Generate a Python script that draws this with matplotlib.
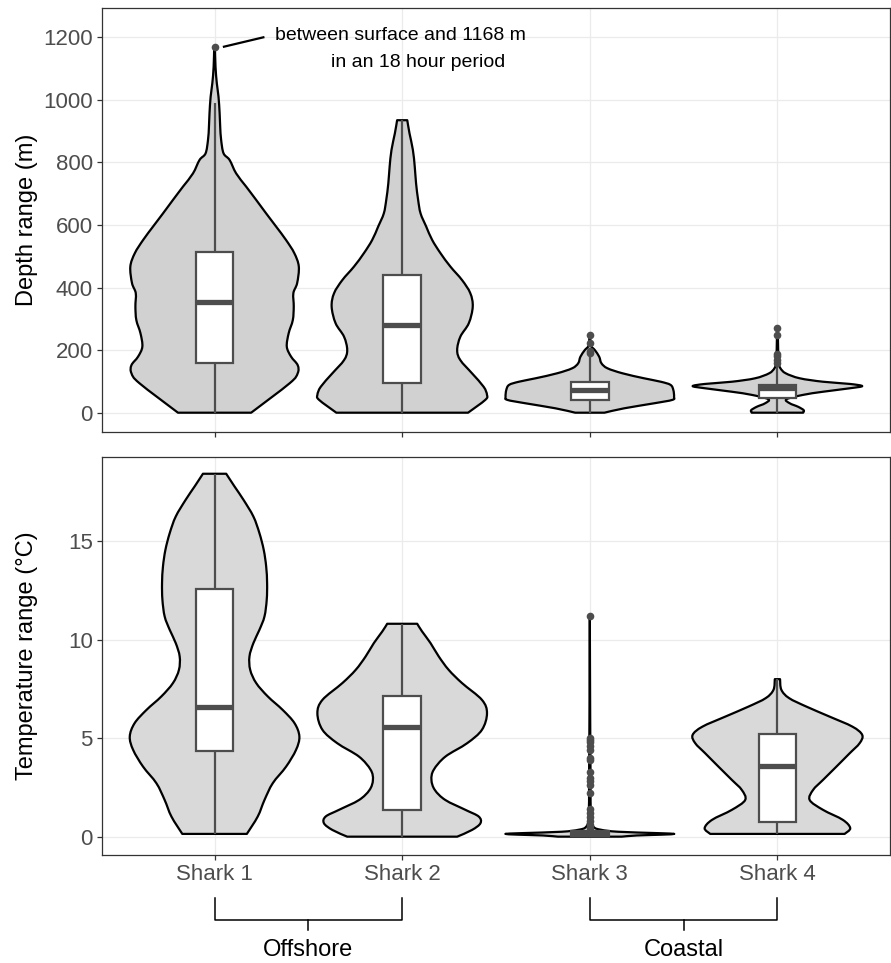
import matplotlib
matplotlib.use("Agg")
import matplotlib.pyplot as plt
from matplotlib.path import Path
from matplotlib.patches import PathPatch
from matplotlib.transforms import blended_transform_factory

plt.rcParams['font.family'] = ['Liberation Sans', 'DejaVu Sans']

# ---------------- data ----------------
sharks = ["Shark 1", "Shark 2", "Shark 3", "Shark 4"]
groups = ["Offshore", "Coastal"]
group_members = [[0, 1], [2, 3]]

# Depth violin outlines (value, half-width)
depth_s1_v = [0, 94, 126, 152, 179, 211, 254, 296, 339, 382, 414, 467, 510, 552, 595, 637,
              680, 723, 765, 808, 829, 872, 914, 957, 1010, 1053, 1106, 1168]
depth_s1_w = [0.195, 0.40, 0.443, 0.443, 0.408, 0.385, 0.395, 0.417, 0.422, 0.42, 0.44, 0.449,
              0.425, 0.381, 0.328, 0.275, 0.222, 0.168, 0.115, 0.080, 0.048, 0.035, 0.030,
              0.027, 0.021, 0.012, 0.005, 0.002]
depth_s2_v = [0, 41, 57, 83, 126, 168, 200, 243, 286, 339, 382, 424, 467, 510, 552, 595, 637,
              680, 733, 786, 840, 893, 935]
depth_s2_w = [0.351, 0.443, 0.452, 0.434, 0.372, 0.31, 0.293, 0.31, 0.355, 0.376, 0.363, 0.319,
              0.257, 0.204, 0.16, 0.128, 0.098, 0.085, 0.074, 0.067, 0.057, 0.039, 0.027]
depth_s3_v = [0, 14, 30, 41, 51, 73, 89, 99, 110, 126, 142, 158, 179, 200, 215, 248]
depth_s3_w = [0.078, 0.183, 0.342, 0.44, 0.449, 0.445, 0.43, 0.378, 0.289, 0.174, 0.094, 0.062,
              0.05, 0.027, 0.006, 0.002]
depth_s4_v = [0, 8, 19, 30, 43, 57, 67, 78, 85, 92, 99, 110, 126, 142, 158, 200, 272]
depth_s4_w = [0.137, 0.14, 0.11, 0.066, 0.048, 0.137, 0.243, 0.385, 0.452, 0.385, 0.243, 0.119,
              0.044, 0.016, 0.008, 0.004, 0.002]

depth_q1 = [158, 96, 41, 46]
depth_med = [353, 280, 73, 80]
depth_q3 = [515, 440, 99, 89]
depth_wlo = [0, 0, 0, 0]
depth_whi = [989, 935, 182, 150]
depth_out = [[1168], [], [248, 224, 198, 190], [272, 249, 188, 180, 169, 159]]

# Temperature violin outlines (value, half-width)
temp_s1_v = [0.14, 1.02, 1.86, 2.71, 3.55, 4.4, 5.08, 5.76, 6.43, 7.11, 7.79, 8.46, 9.14, 9.82,
             10.49, 11.17, 12.02, 12.86, 13.71, 14.55, 15.4, 16.24, 17.09, 17.77, 18.41]
temp_s1_w = [0.172, 0.23, 0.266, 0.31, 0.381, 0.434, 0.452, 0.426, 0.363, 0.284, 0.222, 0.19,
             0.186, 0.207, 0.239, 0.266, 0.278, 0.28, 0.275, 0.262, 0.239, 0.207, 0.154, 0.106,
             0.062]
temp_s2_v = [0, 0.34, 0.68, 1.02, 1.36, 1.86, 2.37, 2.88, 3.39, 4.06, 4.74, 5.42, 6.26, 6.94,
             7.79, 8.46, 9.14, 9.82, 10.41, 10.8]
temp_s2_w = [0.293, 0.372, 0.417, 0.408, 0.337, 0.23, 0.174, 0.156, 0.168, 0.23, 0.346, 0.425,
             0.452, 0.425, 0.319, 0.248, 0.195, 0.151, 0.106, 0.08]
temp_s3_v = [0, 0.06, 0.1, 0.14, 0.18, 0.25, 0.35, 0.5, 1.0, 3.0, 6.0, 11.2]
temp_s3_w = [0.17, 0.25, 0.38, 0.45, 0.36, 0.15, 0.06, 0.02, 0.006, 0.004, 0.002, 0.0]
temp_s4_v = [0.14, 0.43, 0.85, 1.36, 1.86, 2.37, 2.88, 3.55, 4.23, 4.74, 5.16, 5.58, 6.09, 6.6,
             7.03, 7.45, 7.99]
temp_s4_w = [0.358, 0.388, 0.349, 0.243, 0.172, 0.19, 0.243, 0.314, 0.385, 0.438, 0.452, 0.40,
             0.278, 0.154, 0.062, 0.021, 0.014]

temp_q1 = [4.37, 1.36, 0.05, 0.73]
temp_med = [6.6, 5.58, 0.15, 3.59]
temp_q3 = [12.56, 7.16, 0.3, 5.21]
temp_wlo = [0.14, 0, 0, 0.14]
temp_whi = [18.41, 10.8, 0.4, 7.99]
temp_out = [[], [], [11.2, 5.0, 4.9, 4.8, 4.6, 4.4, 4.0, 3.9, 3.3, 3.0, 2.8, 2.6, 2.2, 1.4,
                     1.2, 1.0, 0.8, 0.6, 0.45], []]

depth_violins = [(depth_s1_v, depth_s1_w), (depth_s2_v, depth_s2_w),
                 (depth_s3_v, depth_s3_w), (depth_s4_v, depth_s4_w)]
temp_violins = [(temp_s1_v, temp_s1_w), (temp_s2_v, temp_s2_w),
                (temp_s3_v, temp_s3_w), (temp_s4_v, temp_s4_w)]

# ---------------- style ----------------
GRID = '#ebebeb'
SPINE = '#333333'
BOXC = '#4d4d4d'
TICKC = '#4d4d4d'

W, H = 891, 963
fig = plt.figure(figsize=(W / 100, H / 100), dpi=100)
L, R = 102, 890
ax1 = fig.add_axes([L / W, 1 - 432 / H, (R - L) / W, (432 - 8) / H])
ax2 = fig.add_axes([L / W, 1 - 855 / H, (R - L) / W, (855 - 457) / H])


def smooth_side(pts):
    """Bezier segments (Catmull-Rom style) through the given outline points."""
    verts, codes = [], []
    n = len(pts)
    for k in range(n - 1):
        p0 = pts[k - 1] if k > 0 else pts[k]
        p1 = pts[k]
        p2 = pts[k + 1]
        p3 = pts[k + 2] if k + 2 < n else pts[k + 1]
        c1 = (p1[0] + (p2[0] - p0[0]) / 6, p1[1] + (p2[1] - p0[1]) / 6)
        c2 = (p2[0] - (p3[0] - p1[0]) / 6, p2[1] - (p3[1] - p1[1]) / 6)
        verts += [c1, c2, p2]
        codes += [Path.CURVE4] * 3
    return verts, codes


def violin_path(x, vals, wid):
    right = [(x + w, v) for v, w in zip(vals, wid)]
    left = [(x - w, v) for v, w in zip(vals[::-1], wid[::-1])]
    verts = [left[-1], right[0]]
    codes = [Path.MOVETO, Path.LINETO]
    rv, rc = smooth_side(right)
    verts += rv
    codes += rc
    verts.append(left[0])
    codes.append(Path.LINETO)
    lv, lc = smooth_side(left)
    verts += lv
    codes += lc
    verts.append(left[-1])
    codes.append(Path.CLOSEPOLY)
    return Path(verts, codes)


def draw(ax, violins, q1, med, q3, wlo, whi, outs, fill):
    for i, (vals, wid) in enumerate(violins):
        x = i + 1
        ax.add_patch(PathPatch(violin_path(x, vals, wid), facecolor=fill, edgecolor='black',
                               lw=1.6, zorder=2, joinstyle='round'))
        ax.plot([x, x], [wlo[i], q1[i]], color=BOXC, lw=1.6, zorder=3, solid_capstyle='butt')
        ax.plot([x, x], [q3[i], whi[i]], color=BOXC, lw=1.6, zorder=3, solid_capstyle='butt')
        ax.add_patch(plt.Rectangle((x - 0.1, q1[i]), 0.2, q3[i] - q1[i], facecolor='white',
                                   edgecolor=BOXC, lw=1.6, zorder=4))
        ax.plot([x - 0.1, x + 0.1], [med[i], med[i]], color=BOXC, lw=3.8, zorder=5,
                solid_capstyle='butt')
        if outs[i]:
            ax.plot([x] * len(outs[i]), outs[i], 'o', color=BOXC, ms=5.5, mec='none',
                    zorder=6)


draw(ax1, depth_violins, depth_q1, depth_med, depth_q3, depth_wlo, depth_whi, depth_out,
     '#d0d1d0')
draw(ax2, temp_violins, temp_q1, temp_med, temp_q3, temp_wlo, temp_whi, temp_out, '#d9d9d9')

for ax in (ax1, ax2):
    ax.set_xlim(0.4, 4.6)
    ax.set_xticks(range(1, len(sharks) + 1))
    ax.grid(True, color=GRID, lw=0.9)
    ax.set_axisbelow(True)
    for s in ax.spines.values():
        s.set_color(SPINE)
        s.set_linewidth(0.9)
    ax.tick_params(colors=SPINE, labelcolor=TICKC, labelsize=16, length=3.6, width=0.9,
                   pad=3)

ax1.set_ylim(-61.7, 1293.7)
ax1.set_yticks([0, 200, 400, 600, 800, 1000, 1200])
ax1.set_xticklabels([])
ax1.set_ylabel("Depth range (m)", fontsize=17, color='black', va='center')
ax1.yaxis.set_label_coords((27 - L) / (R - L), 0.5)

ax2.set_ylim(-0.93, 19.26)
ax2.set_yticks([0, 5, 10, 15])
ax2.set_xticklabels(sharks)
ax2.set_ylabel("Temperature range (\u00b0C)", fontsize=17, color='black', va='center')
ax2.yaxis.set_label_coords((27 - L) / (R - L), 0.5)

# annotation
ax1.plot([1.05, 1.26], [1170, 1200], color='black', lw=1.6, zorder=6)
ax1.text(1.322, 1191, "between surface and 1168 m", fontsize=14, ha='left',
         va='baseline', color='black')
ax1.text(1.62, 1105, "in an 18 hour period", fontsize=14, ha='left', va='baseline',
         color='black')

# group brackets
tr = blended_transform_factory(ax2.transData, fig.transFigure)
y_top = 1 - 897.5 / H
y_bar = 1 - 920 / H
y_tick = 1 - 930 / H
y_lab = 1 - 950 / H
for name, mem in zip(groups, group_members):
    xa, xb = mem[0] + 1, mem[1] + 1
    fig.add_artist(plt.Line2D([xa, xa, xb, xb], [y_top, y_bar, y_bar, y_top], color='black',
                              lw=1.1, transform=tr))
    xm = (xa + xb) / 2
    fig.add_artist(plt.Line2D([xm, xm], [y_bar, y_tick], color='black', lw=1.1, transform=tr))
    fig.text(xm, y_lab, name, transform=tr, ha='center', va='center', fontsize=17,
             color='black')

fig.savefig("out.png", dpi=100)
